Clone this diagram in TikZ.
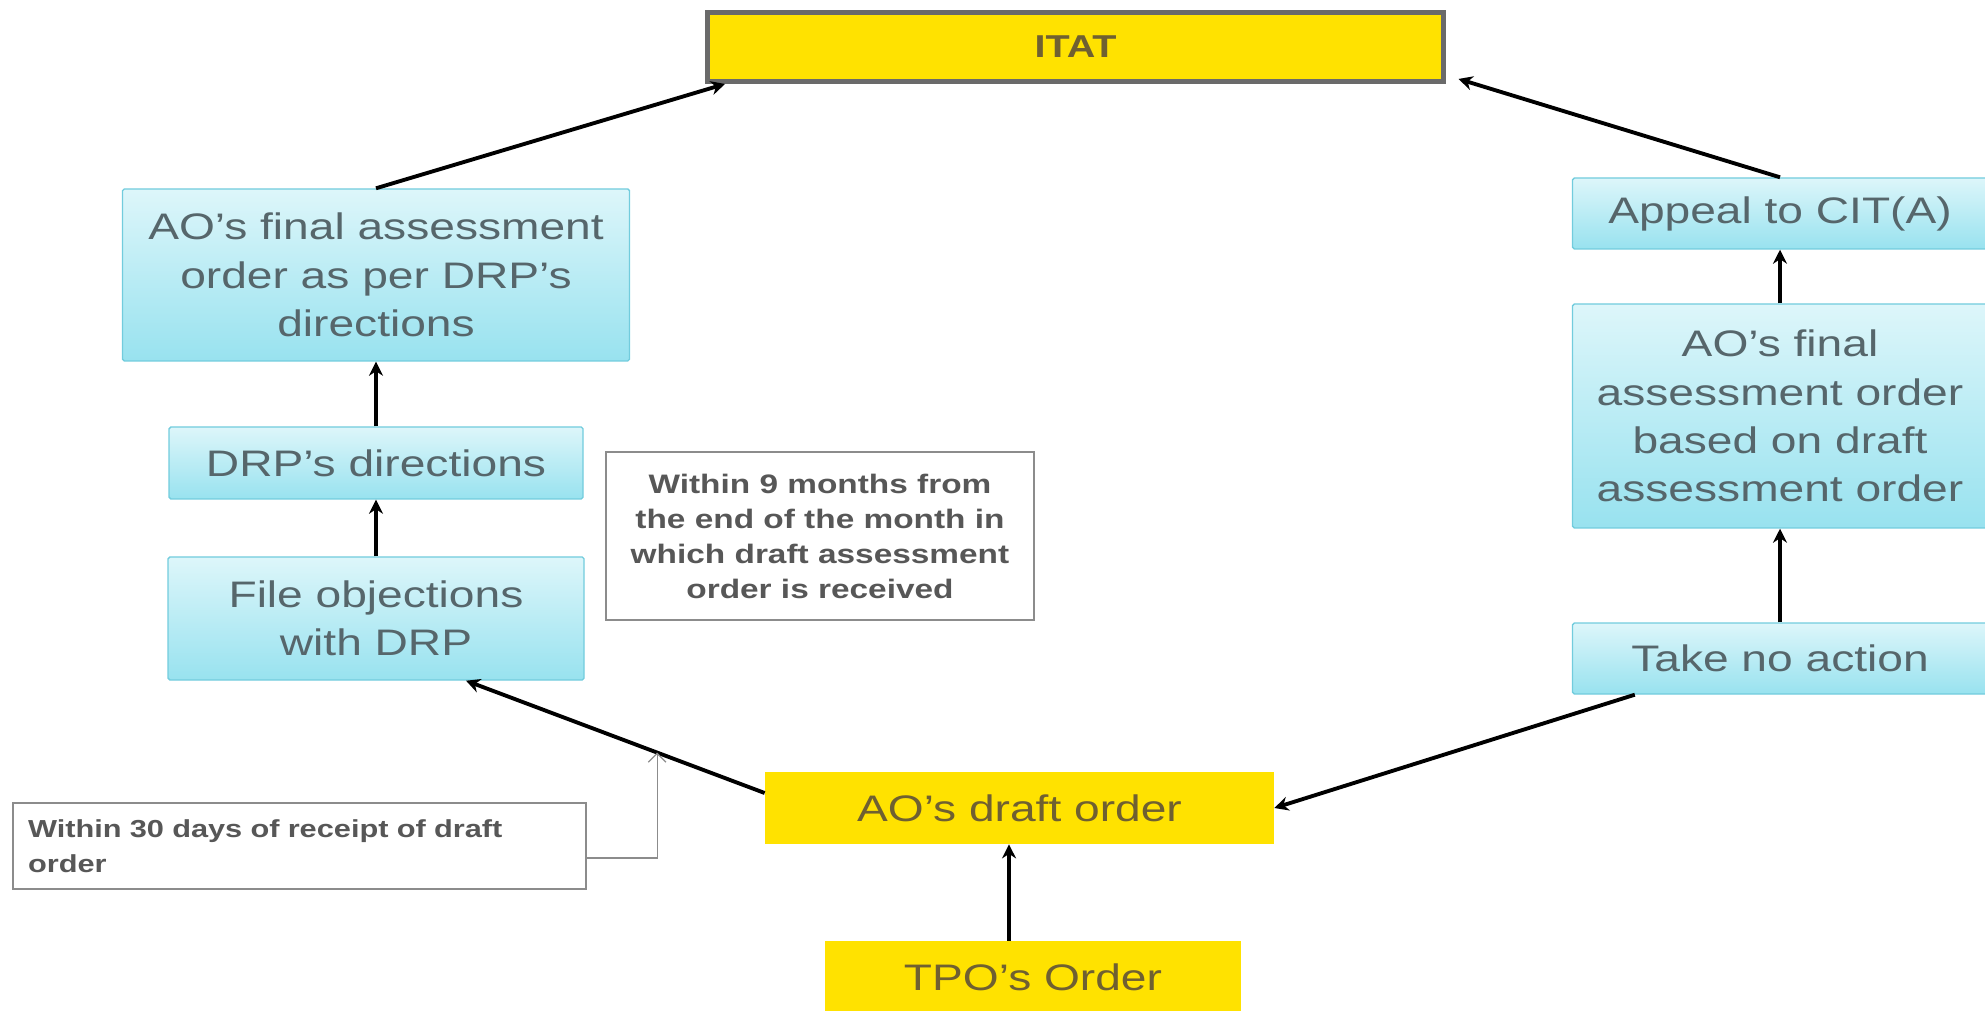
\documentclass[tikz,border=0pt]{standalone}
\usepackage{fontspec}
\setmainfont{Liberation Sans}[FakeStretch=1.25]
\usepackage{xcolor}
\usetikzlibrary{arrows.meta}
\definecolor{cyantop}{HTML}{DDF6FA}
\definecolor{cyanbot}{HTML}{98E2EF}
\definecolor{cyanline}{HTML}{72CCDD}
\definecolor{cyantext}{HTML}{56666B}
\definecolor{ayellow}{HTML}{FFE200}
\definecolor{yellowtext}{HTML}{6F6031}
\definecolor{itatline}{HTML}{6A6A6A}
\definecolor{notegray}{HTML}{8C8C8C}
\definecolor{notetext}{HTML}{575757}

\begin{document}
\begin{tikzpicture}[>={Stealth[length=8pt,width=8pt]}]
	\tikzstyle{cyanbox}=[rectangle,rounded corners=1pt,draw=cyanline,line width=0.8pt,top color=cyantop,bottom color=cyanbot,text=cyantext,font=\fontsize{21}{27.5}\selectfont,align=center,inner sep=0pt]
	\tikzstyle{yellowbox}=[rectangle,fill=ayellow,text=yellowtext,font=\fontsize{21}{27.5}\selectfont,inner sep=0pt]
	\tikzstyle{notebox}=[rectangle,draw=notegray,line width=1pt,fill=white,text=notetext,inner sep=0pt]
	\tikzstyle{arr}=[->,line width=2.2pt]
	\tikzstyle{notearr}=[-{Straight Barb[length=5pt,width=10pt]},line width=0.7pt,draw=notegray]
	
	\useasboundingbox (0,0) rectangle (39.7,20.2);
	
	\node [rectangle,draw=itatline,line width=2.8pt,fill=ayellow,minimum width=14.72cm,minimum height=1.38cm,text=yellowtext,font=\bfseries\fontsize{18}{22}\selectfont] (itat) at (21.51,19.26) {ITAT};
	
	\node [cyanbox,minimum width=10.14cm,minimum height=3.44cm] (finalL) at (7.52,14.70) {AO's final assessment\\order as per DRP's\\directions};
	\node [cyanbox,minimum width=8.28cm,minimum height=1.44cm] (drp) at (7.52,10.94) {DRP's directions};
	\node [cyanbox,minimum width=8.32cm,minimum height=2.46cm] (objections) at (7.52,7.83) {File objections\\with DRP};
	
	\node [notebox,minimum width=8.56cm,minimum height=3.36cm,align=center,font=\bfseries\fontsize{15.2}{19.9}\selectfont] (ninemonths) at (16.40,9.48) {Within 9 months from\\the end of the month in\\which draft assessment\\order is received};
	\node [notebox,minimum height=1.72cm,text width=10.86cm,inner xsep=0.3cm,align=left,font=\bfseries\fontsize{14}{20}\selectfont] (thirtydays) at (5.99,3.28) {Within 30 days of receipt of draft\\order};
	
	\node [yellowbox,minimum width=10.18cm,minimum height=1.44cm] (draft) at (20.39,4.04) {AO's draft order};
	\node [yellowbox,minimum width=8.32cm,minimum height=1.44cm] (tpo) at (20.66,0.66) {TPO's Order};
	
	\node [cyanbox,minimum width=8.30cm,minimum height=1.42cm] (appeal) at (35.60,15.93) {Appeal to CIT(A)};
	\node [cyanbox,minimum width=8.30cm,minimum height=4.48cm] (finalR) at (35.60,11.88) {AO's final\\assessment order\\based on draft\\assessment order};
	\node [cyanbox,minimum width=8.30cm,minimum height=1.42cm] (noaction) at (35.60,7.03) {Take no action};
	
	\draw [arr] (finalL.north) -- ([xshift=0.4cm]itat.south west);
	\draw [arr] (appeal.north) -- ([shift={(0.25cm,0.1cm)}]itat.south east);
	\draw [arr] ([xshift=1.26cm]noaction.south west) -- (draft.east);
	\draw [arr] ([yshift=0.3cm]draft.west) -- coordinate[pos=0.36] (hit) ([xshift=1.8cm]objections.south);
	\draw [arr] ([xshift=-0.48cm]tpo.north) -- ([xshift=-0.48cm]tpo.north |- draft.south);
	\draw [arr] (objections.north) -- (drp.south);
	\draw [arr] (drp.north) -- (finalL.south);
	\draw [arr] (noaction.north) -- (finalR.south);
	\draw [arr] (finalR.north) -- (appeal.south);
	\draw [notearr] ([yshift=-0.24cm]thirtydays.east) -| (hit);
\end{tikzpicture}
\end{document}
